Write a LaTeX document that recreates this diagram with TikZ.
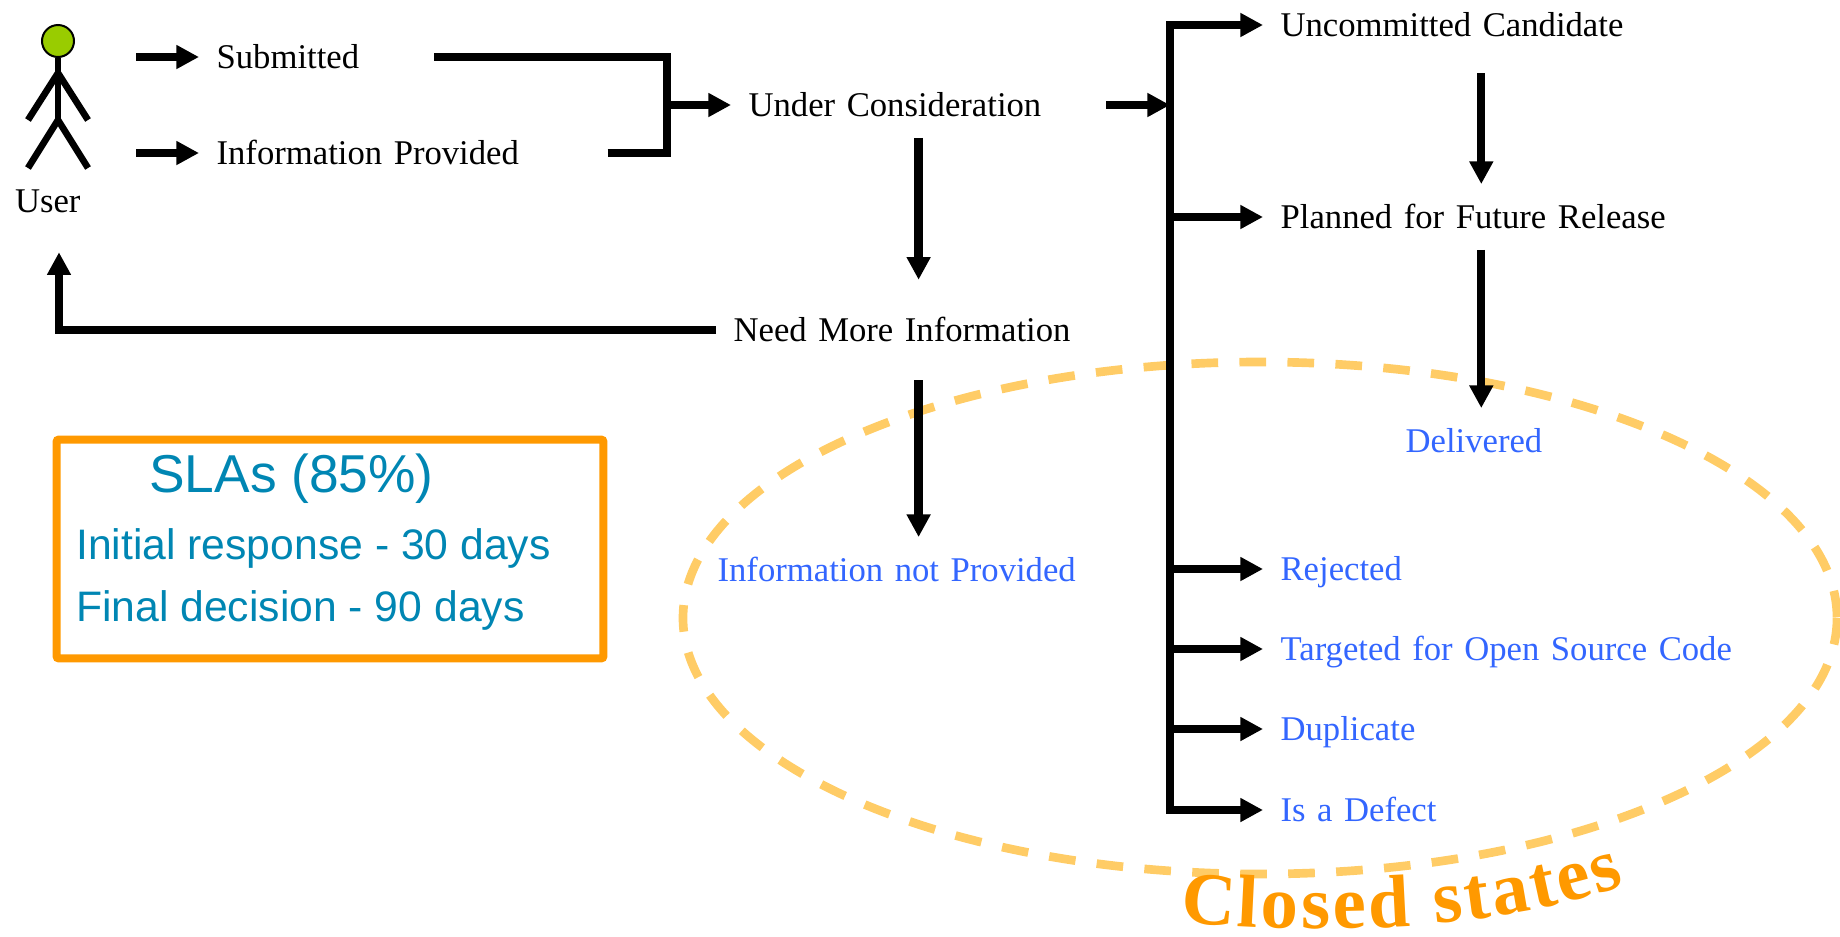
\documentclass[tikz,border=0pt]{standalone}
\usepackage{fontspec}
\setmainfont{Liberation Serif}
\setsansfont{Liberation Sans}
\usepackage{xcolor}
\usetikzlibrary{arrows.meta,positioning,calc,decorations.text}
\definecolor{headgreen}{HTML}{99CC00}
\definecolor{closedblue}{HTML}{3366FF}
\definecolor{slaorange}{HTML}{FF9900}
\definecolor{slateal}{HTML}{0086B3}
\definecolor{ringorange}{HTML}{FFCC66}
\newcommand{\closedfont}{\fontsize{56pt}{58pt}\selectfont\bfseries}

\begin{document}
\begin{tikzpicture}[x=0.75pt, y=-0.75pt,
    bar/.style={line width=6.2pt, line join=miter},
    flow/.style={line width=6.2pt, -{Triangle[length=17pt,width=17pt]}},
    statebox/.style={anchor=west, align=left, inner xsep=13pt, inner ysep=0pt,
        text width=#1, minimum height=49pt, text height=19.6pt, text depth=2.4pt,
        font=\fontsize{26pt}{30pt}\selectfont},
    closedbox/.style={statebox=#1, text=closedblue},
    slatext/.style={anchor=west, inner sep=0pt, text=slateal, font=\sffamily\fontsize{32pt}{36pt}\selectfont}
  ]
    \useasboundingbox (0,0) rectangle (1840,936);

    % Closed states ring
    \draw[ringorange, line width=6.5pt, dash pattern=on 20pt off 16pt] (1260,618) ellipse [x radius=577, y radius=256];
    \path[decorate, decoration={text along path, text align={fit to path},
        text={|\closedfont\color{slaorange}|Closed states}}]
        (1180,922) .. controls (1330,936) and (1500,930) .. (1625,885);

    % User figure
    \node[circle, draw=black, line width=1.5pt, fill=headgreen, minimum size=24pt, inner sep=0pt] (head) at (58,41) {};
    \coordinate (shoulder) at (58,73);
    \coordinate (hip) at (58,120);
    \draw[line width=5pt] (head.south) -- (hip);
    \draw[line width=5pt] (28,120) -- (shoulder) -- (88,120);
    \draw[line width=5pt] (28,168) -- (hip) -- (88,168);
    \node[anchor=center, align=left, inner sep=0pt, text width=66pt, minimum height=76.5pt, font=\fontsize{26pt}{30pt}\selectfont] (user) at (59,201) {User};

    % Entry states
    \coordinate (userA) at (136,57);
    \coordinate (userB) at (136,153);
    \node[statebox=150pt] (submitted) at (199,57) {Submitted};
    \node[statebox=280pt] (provided) at (199,153) {Information Provided};
    \draw[flow] (userA) -- (submitted.west);
    \draw[flow] (userB) -- (provided.west);

    % Under consideration
    \coordinate (join) at (667,105);
    \node[statebox=255pt] (under) at (731,105) {Under Consideration};
    \draw[bar] (submitted.east) -| (join);
    \draw[bar] (provided.east) -| (join);
    \draw[flow] (join) -- (under.west);

    % Need more information
    \node[statebox=277.5pt, minimum height=75pt] (need) at (716,330) {Need More Information};
    \node[closedbox=301.5pt] (notprovided) at (700,570) {Information not Provided};
    \draw[flow] (under.south) -- (under.south |- need.north);
    \draw[flow] (need.south) -- (need.south |- notprovided.north);
    \draw[flow] (need.west) -| (user.south);

    % Trunk and its states
    \coordinate (trunk) at (1170,25);
    \node[statebox=301pt, minimum height=72pt] (uncommitted) at (1263,25) {Uncommitted Candidate};
    \node[statebox=301pt] (planned) at (1263,217) {Planned for Future Release};
    \node[closedbox=113.5pt] (delivered) at (1388,441) {Delivered};
    \node[closedbox=350pt] (rejected) at (1263,569) {Rejected};
    \node[closedbox=350pt] (targeted) at (1263,649) {Targeted for Open Source Code};
    \node[closedbox=350pt] (duplicate) at (1263,729) {Duplicate};
    \node[closedbox=350pt] (defect) at (1263,810) {Is a Defect};
    \draw[bar, line cap=rect] (trunk) -- (trunk |- defect.west);
    \draw[flow] (under.east) -- (under.east -| trunk);
    \foreach \state in {uncommitted,planned,rejected,targeted,duplicate,defect}
        \draw[flow] (trunk |- \state.west) -- (\state.west);
    \draw[flow] (uncommitted.south) -- (planned.north);
    \draw[flow] (planned.south) -- (delivered.north);

    % SLA box
    \node[draw=slaorange, line width=6pt, rounded corners=1.5pt, minimum width=410pt, minimum height=164pt] (sla) at (330,549) {};
    \node[slatext, font=\sffamily\fontsize{40pt}{44pt}\selectfont] (slatitle) at (149,479) {SLAs (85\%)};
    \node[slatext] (slaresponse) at (76,548) {Initial response - 30 days};
    \node[slatext] (sladecision) at (76,610) {Final decision - 90 days};
\end{tikzpicture}
\end{document}
